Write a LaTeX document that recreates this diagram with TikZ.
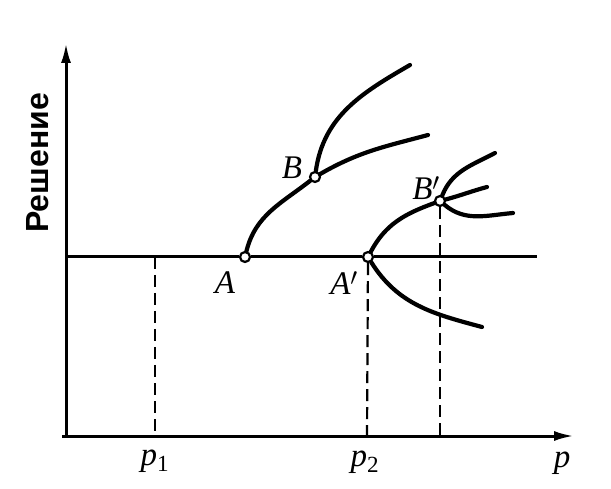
\documentclass[tikz,border=0pt]{standalone}
\usepackage{fontspec}
\setmainfont{Liberation Serif}
\newfontfamily\rufont{Liberation Sans}
\usetikzlibrary{arrows.meta,positioning}
\tikzset{axis/.style={line width=3pt, -{Latex[length=20pt,width=10pt]}},
  branch/.style={line width=4.2pt, line cap=round},
  guide/.style={line width=2.2pt, dash pattern=on 12pt off 6pt},
  bif/.style={draw, circle, fill=white, line width=2.2pt, inner sep=0pt, minimum size=10pt},
  lbl/.style={font=\fontsize{33}{33}\selectfont\itshape, inner sep=0pt}}

\begin{document}
\begin{tikzpicture}[x=1pt, y=1pt]
  \useasboundingbox (0,0) rectangle (611,488);
  % axes
  \coordinate (ybot) at (66,51);
  \coordinate (ytop) at (66,445);
  \coordinate (xbeg) at (62,52);
  \coordinate (xend) at (574,52);
  \draw[axis] (ybot) -- (ytop);
  \draw[axis] (xbeg) -- (xend);
  \node[font=\rufont\bfseries\fontsize{32}{32}\selectfont, rotate=90] (sol) at (38,325) {Решение};
  % bifurcation points
  \node[bif] (A) at (245,231) {};
  \node[bif] (B) at (315,311) {};
  \node[bif] (A2) at (368,231) {};
  \node[bif] (B2) at (440,287) {};
  % trivial solution
  \coordinate (hl) at (67,231);
  \coordinate (hr) at (537,231);
  \draw[line width=3pt] (hl) -- (A) -- (A2) -- (hr);
  % branch ends
  \coordinate (Bup) at (410,423);
  \coordinate (Blo) at (428,353);
  \coordinate (A2lo) at (482,161);
  \coordinate (B2up) at (495,335);
  \coordinate (B2mid) at (487,301);
  \coordinate (B2lo) at (513,275);
  \draw[branch] (A) to[out=76, in=218] (B);
  \draw[branch] (B) to[out=82, in=210] (Bup);
  \draw[branch] (B) to[out=30, in=195] (Blo);
  \draw[branch] (A2) to[out=62, in=200] (B2);
  \draw[branch] (A2) to[out=-58, in=165] (A2lo);
  \draw[branch] (B2) to[out=68, in=208] (B2up);
  \draw[branch] (B2) to[out=15, in=195] (B2mid);
  \draw[branch] (B2) to[out=-40, in=185] (B2lo);
  % parameter values
  \coordinate (p1top) at (155,231);
  \coordinate (p1bot) at (155,52);
  \coordinate (p2bot) at (367,52);
  \coordinate (p3bot) at (440,52);
  \draw[guide] (p1top) -- (p1bot);
  \draw[guide] (A2) -- (p2bot);
  \draw[guide] (B2) -- (p3bot);
  % labels
  \node[lbl] (lA) at (225,205) {A};
  \node[lbl] (lA2) at (344,205) {A$'$};
  \node[lbl] (lB) at (292,320) {B};
  \node[lbl] (lB2) at (426,300) {B$'$};
  \node[lbl] (lp1) at (155,27) {p\textsubscript{\upshape 1}};
  \node[lbl] (lp2) at (365,26) {p\textsubscript{\upshape 2}};
  \node[lbl] (lp) at (562,25) {p};
\end{tikzpicture}
\end{document}
